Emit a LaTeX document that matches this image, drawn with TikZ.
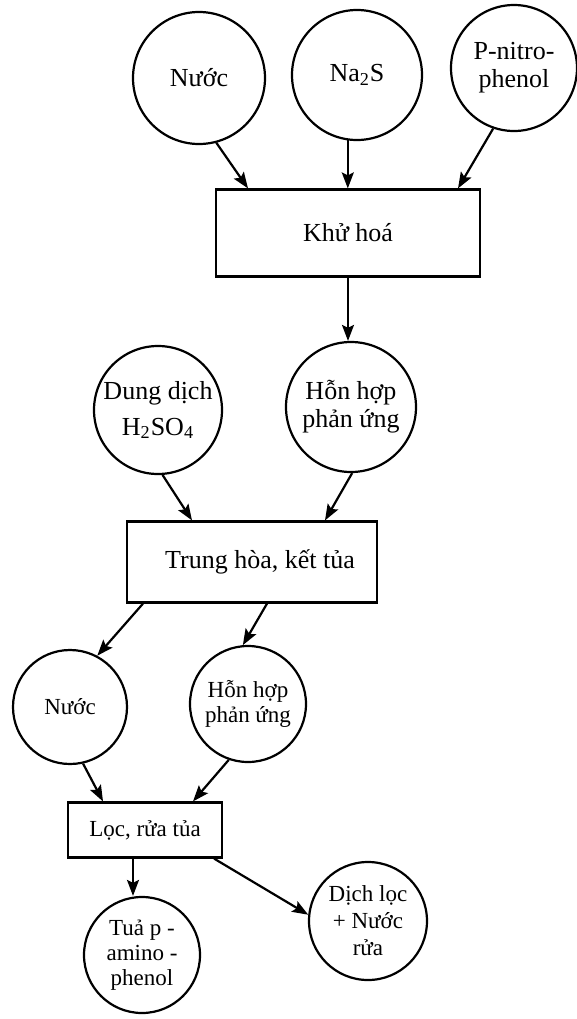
\documentclass[tikz,border=0pt]{standalone}
\usepackage{fontspec}
\setmainfont{Liberation Serif}
\usetikzlibrary{shapes, arrows.meta}
\tikzstyle{material} = [circle, draw=black, line width=1.1pt, inner sep=0pt, align=center, font=\fontsize{13}{14}\selectfont]
\tikzstyle{process} = [rectangle, draw=black, line width=1.1pt, inner sep=0pt, font=\fontsize{13}{14}\selectfont]
\tikzstyle{small} = [font=\fontsize{11.5}{12.5}\selectfont]
\tikzstyle{line} = [draw, line width=1.1pt, -{Stealth[length=8pt, width=6pt, inset=1.5pt]}]
\begin{document}
\begin{tikzpicture}[x=0.5pt, y=-0.5pt]
  \useasboundingbox (0,0) rectangle (577,1019);
  %% nodes
  % inputs
  \node [material, minimum size=66pt] (nuoc1) at (199,78) {Nước};
  \node [material, minimum size=65pt] (na2s) at (357,75) {Na\textsubscript{2}S};
  \node [material, minimum size=63pt] (nitro) at (514,68) {P-nitro-\\phenol};
  % reduction
  \node [process, minimum width=132pt, minimum height=43.5pt] (khuhoa) at (348,233) {Khử hoá};
  % neutralisation inputs
  \node [material, minimum size=64pt] (dungdich) at (158,410) {Dung dịch\\[4pt]H\textsubscript{2}SO\textsubscript{4}};
  \node [material, minimum size=65pt] (hh1) at (351,407) {Hỗn hợp\\phản ứng};
  \node [process, minimum width=125pt, minimum height=40.5pt] (trunghoa) at (252,562) {\hspace*{8pt}Trung hòa, kết tủa};
  % washing
  \node [material, small, minimum size=57pt] (nuoc2) at (70,707) {Nước};
  \node [material, small, minimum size=58pt] (hh2) at (248,704) {Hỗn hợp\\phản ứng};
  \node [process, small, minimum width=77pt, minimum height=27.5pt] (loc) at (145,830) {Lọc, rửa tủa};
  % products
  \node [material, small, minimum size=58pt] (tua) at (142,955) {Tuả p -\\amino -\\phenol};
  \node [material, small, minimum size=59pt] (dich) at (368,921) {Dịch lọc\\[1pt]+ Nước\\[1pt]rửa};
  %% edges
  \path [line] (nuoc1.285) -- ([xshift=-50pt]khuhoa.north);
  \path [line] (na2s.262) -- (na2s.262 |- khuhoa.north);
  \path [line] (nitro.251) -- ([xshift=55pt]khuhoa.north);
  \path [line] (khuhoa.south) -- (khuhoa.south |- hh1.north);
  \path [line] (dungdich.274) -- ([xshift=-30pt]trunghoa.north);
  \path [line] (hh1.271) -- ([xshift=36.5pt]trunghoa.north);
  \path [line] ([xshift=-54.5pt]trunghoa.south) -- (nuoc2.62);
  \path [line] ([xshift=7.5pt]trunghoa.south) -- (hh2.95);
  \path [line] (nuoc2.283) -- ([xshift=-21pt]loc.north);
  \path [line] (hh2.251) -- ([xshift=24pt]loc.north);
  \path [line] ([xshift=-6pt]loc.south) -- ([xshift=-6pt]loc.south |- tua.north);
  \path [line] ([xshift=-4.5pt]loc.south east) -- (dich.174);
\end{tikzpicture}
\end{document}
